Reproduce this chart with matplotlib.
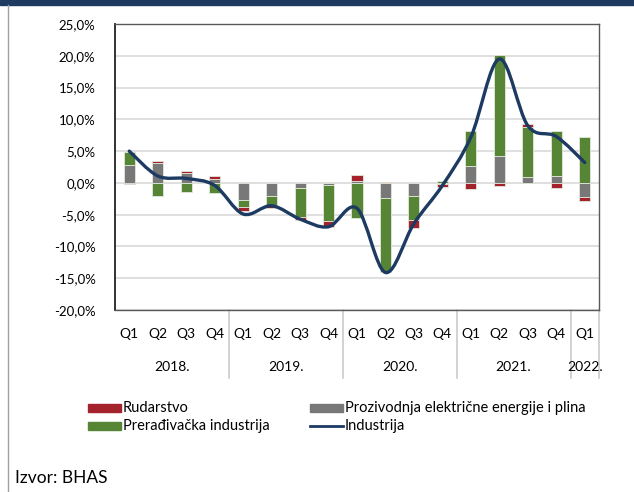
import numpy as np
import matplotlib
matplotlib.use('Agg')
import matplotlib.pyplot as plt
from matplotlib.path import Path
from matplotlib.patches import PathPatch, Rectangle
from matplotlib.lines import Line2D

plt.rcParams['font.family'] = ['Lato', 'DejaVu Sans']

# ── podaci (doprinos rastu, p.p.) ─────────────────
quarters = ['Q1', 'Q2', 'Q3', 'Q4'] * 4 + ['Q1']
years = ['2018.', '2019.', '2020.', '2021.', '2022.']
year_len = [4, 4, 4, 4, 1]

energija = [2.8, 3.1, 1.6, 0.6, -2.7, -2.1, -0.8, -0.3,
            0.35, -2.4, -2.0, -0.1, 2.7, 4.3, 1.0, 1.1, -2.2]
preradjivacka = [2.0, -2.0, -1.4, -1.6, -1.1, -1.4, -4.6, -5.7,
                 -5.6, -11.6, -3.9, 0.3, 5.4, 15.9, 7.8, 7.0, 7.2]
rudarstvo = [-0.2, 0.4, 0.3, 0.45, -0.6, -0.4, -0.4, -0.9,
             0.9, 0.2, -1.2, -0.6, -0.9, -0.5, 0.4, -0.8, -0.6]
industrija = [5.0, 1.1, 0.7, -0.4, -4.9, -3.6, -5.7, -6.9,
              -4.0, -14.1, -6.4, -0.4, 7.2, 19.5, 9.0, 7.3, 3.2]

C_RED = '#a4222b'
C_GRAY = '#787878'
C_GREEN = '#568536'
C_LINE = '#1c3a62'

W, H = 634, 492
fig = plt.figure(figsize=(W / 100, H / 100), dpi=100)


def fx(px):
    return px / W


def fy(py):
    return 1 - py / H


ax = fig.add_axes([fx(115), fy(310), fx(599) - fx(115), fy(24) - fy(310)])

x = np.arange(len(quarters))

# stacked bars: positives up, negatives down, order gray -> green -> red
pos_bot = np.zeros(len(x))
neg_bot = np.zeros(len(x))
for vals, col in [(energija, C_GRAY), (preradjivacka, C_GREEN), (rudarstvo, C_RED)]:
    v = np.array(vals)
    bot = np.where(v >= 0, pos_bot, neg_bot)
    ax.bar(x, v, bottom=bot, width=0.39, color=col, edgecolor='#e3e8dc',
           linewidth=0.6, zorder=3)
    pos_bot += np.where(v >= 0, v, 0)
    neg_bot += np.where(v < 0, v, 0)

# smoothed line (Excel-like Catmull-Rom bezier)
pts = np.column_stack([x, industrija]).astype(float)
verts = [pts[0]]
codes = [Path.MOVETO]
n = len(pts)
for i in range(n - 1):
    p0 = pts[i - 1] if i > 0 else pts[i]
    p1, p2 = pts[i], pts[i + 1]
    p3 = pts[i + 2] if i + 2 < n else pts[i + 1]
    verts += [p1 + (p2 - p0) / 6, p2 - (p3 - p1) / 6, p2]
    codes += [Path.CURVE4] * 3
ax.add_patch(PathPatch(Path(verts, codes), facecolor='none', edgecolor=C_LINE,
                       lw=2.4, zorder=4, capstyle='round'))

ax.set_xlim(-0.5, len(x) - 0.5)
ax.set_ylim(-20, 25)
ax.set_yticks(np.arange(-20, 26, 5))
ax.set_yticklabels([f'{v:.1f}%'.replace('.', ',') for v in np.arange(-20, 26, 5)],
                   fontsize=9.5)
ax.tick_params(axis='y', length=0, pad=14)
ax.set_xticks([])
ax.grid(axis='y', color='#d9d9d9', lw=1.2, zorder=0)
ax.set_axisbelow(True)
ax.spines['left'].set_color('#222222')
ax.spines['left'].set_linewidth(1.3)
for s in ['top', 'right', 'bottom']:
    ax.spines[s].set_color('#595959')
    ax.spines[s].set_linewidth(1.0)

# category axis (two levels)
tr = ax.get_xaxis_transform()
y_q = -(334 - 310) / 286
y_y = -(367 - 310) / 286
y_end = -(378 - 310) / 286
for i, q in enumerate(quarters):
    ax.text(i, y_q, q, transform=tr, ha='center', va='center', fontsize=10)
start = 0
for yr, ln in zip(years, year_len):
    ax.text(start + (ln - 1) / 2, y_y, yr, transform=tr, ha='center', va='center',
            fontsize=10)
    start += ln
    ax.add_line(Line2D([start - 0.5, start - 0.5], [0, y_end], transform=tr,
                       color='#c8cccc', lw=1.2, clip_on=False))

# legend
leg_items = [
    (88, 408, 'patch', C_RED, 'Rudarstvo'),
    (88, 426, 'patch', C_GREEN, 'Prerađivačka industrija'),
    (310, 408, 'patch', C_GRAY, 'Prozivodnja električne energije i plina'),
    (310, 426, 'line', C_LINE, 'Industrija'),
]
for px, py, kind, col, lab in leg_items:
    if kind == 'patch':
        fig.patches.append(Rectangle((fx(px), fy(py + 4)), fx(33), 8 / H,
                                     transform=fig.transFigure, color=col))
    else:
        fig.add_artist(Line2D([fx(px), fx(px + 33)], [fy(py), fy(py)],
                              transform=fig.transFigure, color=col, lw=2))
    fig.text(fx(px + 35), fy(py), lab, ha='left', va='center', fontsize=10.5)

fig.text(fx(15), fy(478), 'Izvor: BHAS', ha='left', va='center', fontsize=12.5)

# frame bits: title band and left border
fig.patches.append(Rectangle((0, fy(5)), 1, 5 / H, transform=fig.transFigure,
                             color='#1f3a60'))
fig.add_artist(Line2D([fx(8), fx(8)], [0, fy(5)], transform=fig.transFigure,
                      color='#a0a0a0', lw=1))

fig.savefig('out.png', dpi=100)
